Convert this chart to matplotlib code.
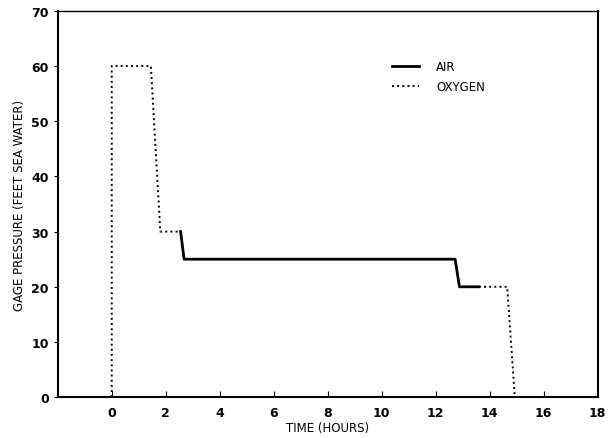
import matplotlib.pyplot as plt

# Dive profile segments (time in hours, pressure in feet sea water)
oxy1_t = [0, 0, 1.45, 1.8, 2.55]
oxy1_p = [0, 60, 60, 30, 30]

air_t = [2.55, 2.68, 12.72, 12.88, 13.6]
air_p = [30, 25, 25, 20, 20]

oxy2_t = [13.6, 14.65, 14.93]
oxy2_p = [20, 20, 0]

xticks = [0, 2, 4, 6, 8, 10, 12, 14, 16, 18]
yticks = [0, 10, 20, 30, 40, 50, 60, 70]

fig = plt.figure(figsize=(6.08, 4.39), dpi=100)
ax = fig.add_axes([0.095, 0.093, 0.888, 0.88])

ax.plot(air_t, air_p, color='black', linewidth=2.0, label='AIR')
ax.plot(oxy1_t, oxy1_p, color='black', linestyle=':', linewidth=1.4, label='OXYGEN')
ax.plot(oxy2_t, oxy2_p, color='black', linestyle=':', linewidth=1.4)

ax.set_xlim(-2, 18)
ax.set_ylim(0, 70)
ax.set_xticks(xticks)
ax.set_yticks(yticks)
ax.tick_params(axis='x', direction='in', length=4, labelsize=9, pad=6)
ax.tick_params(axis='y', direction='out', length=3, labelsize=9)
for lbl in ax.get_xticklabels() + ax.get_yticklabels():
    lbl.set_fontweight('bold')

for side in ['left', 'bottom', 'right']:
    ax.spines[side].set_linewidth(1.5)
ax.spines['top'].set_linewidth(1.0)

ax.set_xlabel('TIME (HOURS)', fontsize=8.5, labelpad=2)
ax.set_ylabel('GAGE PRESSURE (FEET SEA WATER)', fontsize=8.5, labelpad=4)

ax.legend(loc='upper left', bbox_to_anchor=(0.6, 0.9), frameon=False,
          fontsize=8.5, handlelength=2.3, handletextpad=1.4, labelspacing=0.6)

fig.savefig('out.png', dpi=100)
